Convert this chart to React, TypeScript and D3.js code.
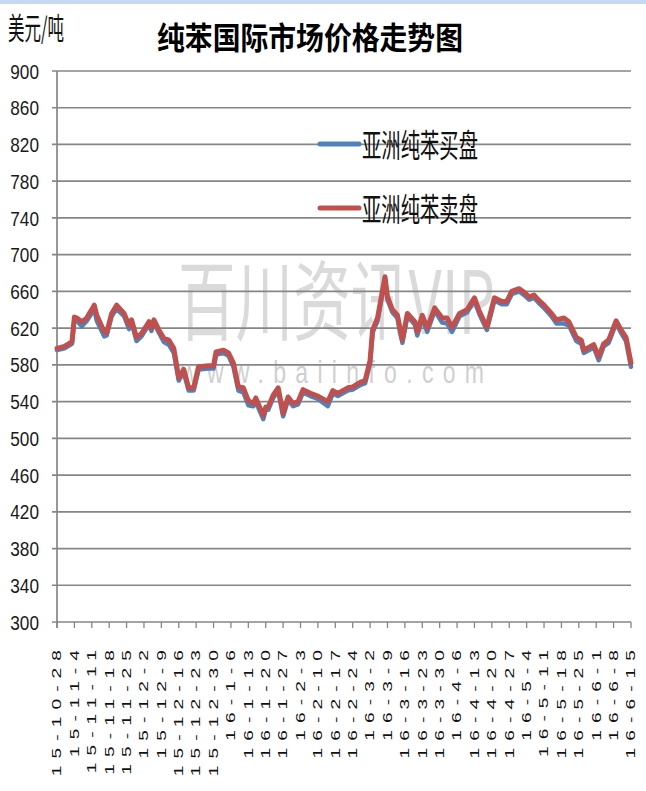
import * as d3 from "d3";
import React, { useEffect, useRef } from "react";

// trading dates (approximate, ~every 2-3 days)
const dates = [
  "2015-10-28", "2015-10-31", "2015-11-03", "2015-11-04", "2015-11-05", "2015-11-07", "2015-11-09", "2015-11-10", "2015-11-12", "2015-11-13",
  "2015-11-16", "2015-11-17", "2015-11-19", "2015-11-21", "2015-11-24", "2015-11-26", "2015-11-27", "2015-11-29", "2015-12-01", "2015-12-04",
  "2015-12-05", "2015-12-06", "2015-12-08", "2015-12-10", "2015-12-12", "2015-12-14", "2015-12-16", "2015-12-18", "2015-12-20", "2015-12-22",
  "2015-12-24", "2015-12-28", "2015-12-30", "2015-12-31", "2016-01-03", "2016-01-05", "2016-01-07", "2016-01-09", "2016-01-11", "2016-01-13",
  "2016-01-15", "2016-01-16", "2016-01-19", "2016-01-20", "2016-01-21", "2016-01-23", "2016-01-25", "2016-01-27", "2016-01-29", "2016-01-31",
  "2016-02-02", "2016-02-04", "2016-02-07", "2016-02-10", "2016-02-14", "2016-02-16", "2016-02-18", "2016-02-22", "2016-02-24", "2016-02-27",
  "2016-02-29", "2016-03-02", "2016-03-03", "2016-03-05", "2016-03-08", "2016-03-09", "2016-03-11", "2016-03-13", "2016-03-15", "2016-03-17",
  "2016-03-20", "2016-03-21", "2016-03-23", "2016-03-25", "2016-03-28", "2016-03-31", "2016-04-02", "2016-04-04", "2016-04-07", "2016-04-10",
  "2016-04-13", "2016-04-15", "2016-04-18", "2016-04-21", "2016-04-24", "2016-04-26", "2016-04-28", "2016-05-01", "2016-05-03", "2016-05-05",
  "2016-05-07", "2016-05-09", "2016-05-11", "2016-05-14", "2016-05-16", "2016-05-19", "2016-05-21", "2016-05-24", "2016-05-26", "2016-05-27",
  "2016-05-31", "2016-06-02", "2016-06-04", "2016-06-06", "2016-06-09", "2016-06-11", "2016-06-13", "2016-06-15",
];

// 亚洲纯苯卖盘
const sellPrices = [
  598, 600, 605, 632, 631, 627, 631, 636, 645, 634,
  616, 615, 636, 645, 636, 623, 629, 610, 614, 627,
  620, 629, 618, 609, 607, 598, 566, 575, 555, 555,
  578, 579, 579, 594, 596, 593, 582, 556, 555, 541,
  538, 544, 525, 534, 534, 547, 555, 527, 545, 538,
  540, 553, 549, 546, 540, 552, 549, 555, 556, 561,
  563, 585, 618, 631, 676, 654, 640, 634, 607, 636,
  627, 616, 634, 620, 642, 631, 631, 621, 636, 640,
  653, 638, 621, 653, 649, 649, 660, 663, 659, 654,
  656, 650, 645, 636, 629, 631, 627, 610, 607, 596,
  602, 589, 603, 607, 628, 618, 610, 582,
];

// 亚洲纯苯买盘
const buyPrices = [
  596, 598, 603, 629, 628, 622, 628, 632, 641, 628,
  611, 612, 633, 641, 633, 619, 626, 606, 611, 624,
  617, 626, 615, 605, 602, 593, 563, 572, 552, 552,
  575, 576, 576, 591, 593, 590, 578, 552, 550, 536,
  535, 540, 521, 531, 531, 544, 552, 524, 542, 535,
  537, 550, 546, 543, 535, 549, 546, 552, 553, 558,
  560, 582, 615, 628, 673, 651, 637, 631, 604, 633,
  624, 612, 631, 616, 639, 626, 625, 616, 633, 637,
  650, 635, 618, 650, 646, 646, 657, 660, 656, 651,
  653, 647, 642, 633, 625, 625, 623, 606, 603, 593,
  599, 585, 600, 604, 625, 615, 606, 578,
];

const tickLabels = [
  "15-10-28", "15-11-4", "15-11-11", "15-11-18", "15-11-25", "15-12-2", "15-12-9", "15-12-16", "15-12-23", "15-12-30",
  "16-1-6", "16-1-13", "16-1-20", "16-1-27", "16-2-3", "16-2-10", "16-2-17", "16-2-24", "16-3-2", "16-3-9",
  "16-3-16", "16-3-23", "16-3-30", "16-4-6", "16-4-13", "16-4-20", "16-4-27", "16-5-4", "16-5-11", "16-5-18",
  "16-5-25", "16-6-1", "16-6-8", "16-6-15",
];

const yTicks = [300, 340, 380, 420, 460, 500, 540, 580, 620, 660, 700, 740, 780, 820, 860, 900];

const seriesNames = ["亚洲纯苯买盘", "亚洲纯苯卖盘"];
const seriesColors = ["#4f81bd", "#c0504d"];

const latin = "'Liberation Sans', Arial, sans-serif";
const cjk = "'Noto Sans CJK SC', sans-serif";

const App = () => {
  const svgRef = useRef<SVGSVGElement>(null);

  const width = 646;
  const height = 791;
  const left = 57;
  const right = 631;
  const top = 71;
  const bottom = 622;

  useEffect(() => {
    const svg = d3.select(svgRef.current);
    svg.selectAll("*").remove();

    const parseDate = d3.timeParse("%Y-%m-%d");
    const parseTick = d3.timeParse("%y-%m-%d");
    const xDates = dates.map((d) => parseDate(d) as Date);
    const tickDates = tickLabels.map((d) => parseTick(d) as Date);

    const xScale = d3.scaleTime()
      .domain([tickDates[0], tickDates[tickDates.length - 1]])
      .range([left, right]);
    const yScale = d3.scaleLinear()
      .domain([300, 900])
      .range([bottom, top]);

    svg.append("rect")
      .attr("width", width)
      .attr("height", height)
      .attr("fill", "#fff");
    svg.append("rect")
      .attr("width", width)
      .attr("height", 4)
      .attr("fill", "#c6d9f1");

    // watermark
    svg.append("text")
      .attr("transform", "translate(178,334) scale(1,1.75)")
      .attr("font-family", cjk)
      .attr("font-size", 50)
      .attr("textLength", 317)
      .attr("lengthAdjust", "spacingAndGlyphs")
      .attr("fill", "#dadada")
      .text("百川资讯VIP");
    svg.append("text")
      .attr("transform", "translate(181,383) scale(1,1.4)")
      .attr("font-family", latin)
      .attr("font-size", 23)
      .attr("textLength", 303)
      .attr("lengthAdjust", "spacing")
      .attr("fill", "#cfcfcf")
      .text("www.baiinfo.com");

    // gridlines
    svg.append("g")
      .selectAll("line")
      .data(yTicks)
      .enter()
      .append("line")
      .attr("x1", left - 5)
      .attr("x2", right)
      .attr("y1", (d) => yScale(d))
      .attr("y2", (d) => yScale(d))
      .attr("stroke", "#868686")
      .attr("stroke-width", 1.7);

    // y axis
    svg.append("line")
      .attr("x1", left).attr("x2", left)
      .attr("y1", top).attr("y2", bottom + 6)
      .attr("stroke", "#868686")
      .attr("stroke-width", 1.7);

    svg.append("g")
      .selectAll("text")
      .data(yTicks)
      .enter()
      .append("text")
      .attr("transform", (d) => `translate(39,${yScale(d)}) scale(0.86,1.05)`)
      .attr("dy", "0.36em")
      .attr("text-anchor", "end")
      .attr("font-family", latin)
      .attr("font-size", 20)
      .attr("fill", "#1a1a1a")
      .text((d) => d);

    // x axis ticks
    svg.append("g")
      .selectAll("line")
      .data(tickDates)
      .enter()
      .append("line")
      .attr("x1", (d) => xScale(d))
      .attr("x2", (d) => xScale(d))
      .attr("y1", bottom)
      .attr("y2", bottom + 6)
      .attr("stroke", "#868686")
      .attr("stroke-width", 1.3);

    svg.append("g")
      .selectAll("text")
      .data(tickLabels)
      .enter()
      .append("text")
      .attr("transform", (d, i) => `translate(${xScale(tickDates[i])},643) rotate(-90) scale(1.6,1)`)
      .attr("dy", "0.36em")
      .attr("text-anchor", "end")
      .attr("font-family", latin)
      .attr("font-size", 12)
      .attr("letter-spacing", 4.4)
      .attr("fill", "#111")
      .text((d) => d);

    // series lines
    const line = d3.line<number>()
      .x((d, i) => xScale(xDates[i]))
      .y((d) => yScale(d));

    [buyPrices, sellPrices].forEach((values, i) => {
      svg.append("path")
        .datum(values)
        .attr("d", line)
        .attr("fill", "none")
        .attr("stroke", seriesColors[i])
        .attr("stroke-width", i === 0 ? 4.5 : 5)
        .attr("stroke-linejoin", "round")
        .attr("stroke-linecap", "round");
    });

    // legend
    const legendY = [144, 208];
    seriesNames.forEach((name, i) => {
      svg.append("line")
        .attr("x1", 320).attr("x2", 359)
        .attr("y1", legendY[i]).attr("y2", legendY[i])
        .attr("stroke", seriesColors[i])
        .attr("stroke-width", 5)
        .attr("stroke-linecap", "round");
      svg.append("text")
        .attr("transform", `translate(362,${legendY[i] + 13}) scale(1,1.7)`)
        .attr("font-family", cjk)
        .attr("font-size", 19)
        .attr("textLength", 116)
        .attr("lengthAdjust", "spacingAndGlyphs")
        .attr("fill", "#111")
        .text(name);
    });

    // title and unit
    svg.append("text")
      .attr("transform", "translate(310,49) scale(1,1.2)")
      .attr("text-anchor", "middle")
      .attr("font-family", cjk)
      .attr("font-weight", 700)
      .attr("font-size", 26)
      .attr("textLength", 306)
      .attr("lengthAdjust", "spacingAndGlyphs")
      .attr("fill", "#000")
      .text("纯苯国际市场价格走势图");
    svg.append("text")
      .attr("transform", "translate(8,39) scale(1,1.55)")
      .attr("font-family", cjk)
      .attr("font-size", 19)
      .attr("textLength", 56)
      .attr("lengthAdjust", "spacingAndGlyphs")
      .attr("fill", "#111")
      .text("美元/吨");
  }, []);

  return (
    <svg
      ref={svgRef}
      width={width}
      height={height}
      style={{ position: "absolute", left: 0, top: 0 }}
    />
  );
};

export default App;
